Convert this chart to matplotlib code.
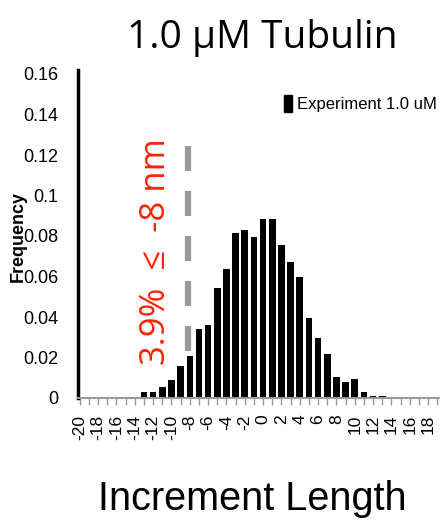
import numpy as np
import matplotlib.pyplot as plt
from matplotlib.patches import Patch

# increment length bins (nm) and measured frequency
increments = [-16, -13, -12, -11, -10, -9, -8, -7, -6, -5, -4, -3, -2, -1,
              0, 1, 2, 3, 4, 5, 6, 7, 8, 9, 10, 11, 12, 13, 14]
frequency = [0.0007, 0.0030, 0.0028, 0.0056, 0.0089, 0.0160, 0.0205, 0.0339,
             0.0360, 0.0543, 0.0635, 0.0815, 0.0828, 0.0795, 0.0882, 0.0885,
             0.0755, 0.0673, 0.0597, 0.0397, 0.0295, 0.0219, 0.0104, 0.0080,
             0.0095, 0.0031, 0.0010, 0.0012, 0.0007]

cutoff_x = -8.2
cutoff_span = (0.023, 0.125)
x_labels = list(range(-20, 19, 2))
y_ticks = [0, 0.02, 0.04, 0.06, 0.08, 0.1, 0.12, 0.14, 0.16]
y_ticklabels = ['0', '0.02', '0.04', '0.06', '0.08', '0.1', '0.12', '0.14', '0.16']

fig = plt.figure(figsize=(4.4, 5.24), dpi=100)
ax = fig.add_axes([78 / 440, 1 - 398 / 524, 1 - 78 / 440, 324 / 524 * 0.162 / 0.16])

ax.bar(increments, frequency, width=0.72, color='black', label='Experiment 1.0 uM')

# dashed cutoff line at -8 nm
ax.vlines(cutoff_x, cutoff_span[0], cutoff_span[1], color='#999999', linewidth=4.5,
          linestyles=(0, (4.0, 3.2)), capstyle='butt')

ax.text(-11.7, 0.0723, '3.9%  \u2264  -8 nm', rotation=90, color='#ff2200',
        fontsize=25, ha='center', va='center', family=['Open Sans', 'DejaVu Sans'])

ax.set_xlim(-20.2, 19.3)
ax.set_ylim(0, 0.162)

ax.set_xticks(x_labels)
ax.set_xticklabels([str(v) for v in x_labels], rotation=90, fontsize=12.5,
                   family='Liberation Sans')
ax.set_xticks(range(-20, 20), minor=True)
ax.tick_params(axis='x', which='both', length=5, width=1, color='#999999', pad=7)

ax.set_yticks(y_ticks)
ax.set_yticklabels(y_ticklabels, fontsize=13, family='Liberation Sans')
ax.tick_params(axis='y', length=0, pad=14)

for s in ['top', 'right']:
    ax.spines[s].set_visible(False)
ax.spines['left'].set_linewidth(2.5)
ax.spines['left'].set_color('black')
ax.spines['bottom'].set_linewidth(1.5)
ax.spines['bottom'].set_color('#999999')

ax.set_ylabel('Frequency', fontsize=13, fontweight='bold', family='Liberation Sans')
ax.yaxis.set_label_coords(-60 / 362, (398 - 237) / 328)
ax.yaxis.label.set_va('center')
ax.set_xlabel('Increment Length', fontsize=28.5, family='Liberation Sans')
ax.xaxis.set_label_coords((252 - 78) / 362, -(499 - 398) / 328)
ax.xaxis.label.set_va('center')

fig.text(262 / 440, 1 - 38 / 524, '1.0 \u03bcM Tubulin', fontsize=28, ha='center', va='center',
         family=['Open Sans', 'DejaVu Sans'])

handle = Patch(facecolor='black', edgecolor='black')
ax.legend([handle], ['Experiment 1.0 uM'], loc='upper right', bbox_to_anchor=(1.01, 0.945),
          frameon=False, prop={'family': 'Liberation Sans', 'size': 12}, handlelength=0.5,
          handleheight=1.2, handletextpad=0.3, borderaxespad=0)

fig.savefig('out.png', dpi=100)
